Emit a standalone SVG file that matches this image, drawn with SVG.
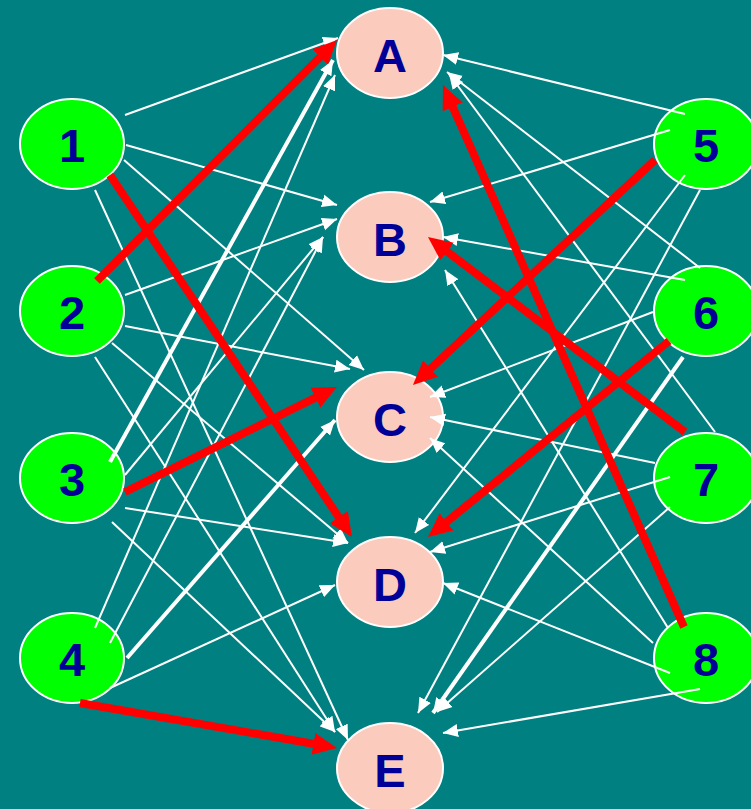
<svg xmlns="http://www.w3.org/2000/svg" width="751" height="809" viewBox="0 0 751 809">
  <style>
    .bg { fill: #008080; }
    .src ellipse { fill: #00FF00; stroke: #FFFFFF; stroke-width: 2; }
    .dst ellipse { fill: #FBCBBD; stroke: #FFFFFF; stroke-width: 2; }
    .node text { font-family: "Liberation Sans", Arial, sans-serif; font-weight: bold; font-size: 47px; fill: #000099; text-anchor: middle; }
    .w { stroke: #FFFFFF; stroke-width: 2; fill: none; marker-end: url(#headW); }
    .wt { stroke-width: 4; }
    .r { stroke: #FF0000; stroke-width: 8; fill: none; marker-end: url(#headR); }
  </style>
  <defs>
    <marker id="headW" markerUnits="userSpaceOnUse" markerWidth="16" markerHeight="14" viewBox="0 -7 16 14" refX="15" refY="0" orient="auto">
      <path d="M0,-6.5 L15,0 L0,6.5 z" fill="#FFFFFF"/>
    </marker>
    <marker id="headR" markerUnits="userSpaceOnUse" markerWidth="26" markerHeight="24" viewBox="0 -12 26 24" refX="4" refY="0" orient="auto">
      <path d="M0,-11 L24,0 L0,11 z" fill="#FF0000"/>
    </marker>
  </defs>

  <rect class="bg" x="0" y="0" width="751" height="809"/>

  <!-- left column -->
  <g id="n1" class="node src"><ellipse cx="72" cy="144" rx="52" ry="45"/><text x="72" y="162">1</text></g>
  <g id="n2" class="node src"><ellipse cx="72" cy="311" rx="52" ry="45"/><text x="72" y="329">2</text></g>
  <g id="n3" class="node src"><ellipse cx="72" cy="478" rx="52" ry="45"/><text x="72" y="496">3</text></g>
  <g id="n4" class="node src"><ellipse cx="72" cy="658" rx="52" ry="45"/><text x="72" y="676">4</text></g>

  <!-- right column -->
  <g id="n5" class="node src"><ellipse cx="706" cy="144" rx="52" ry="45"/><text x="706" y="162">5</text></g>
  <g id="n6" class="node src"><ellipse cx="706" cy="311" rx="52" ry="45"/><text x="706" y="329">6</text></g>
  <g id="n7" class="node src"><ellipse cx="706" cy="478" rx="52" ry="45"/><text x="706" y="496">7</text></g>
  <g id="n8" class="node src"><ellipse cx="706" cy="658" rx="52" ry="45"/><text x="706" y="676">8</text></g>

  <!-- middle column -->
  <g id="nA" class="node dst"><ellipse cx="390" cy="53" rx="53" ry="45"/><text x="390" y="72">A</text></g>
  <g id="nB" class="node dst"><ellipse cx="390" cy="237" rx="53" ry="45"/><text x="390" y="256">B</text></g>
  <g id="nC" class="node dst"><ellipse cx="390" cy="417" rx="53" ry="45"/><text x="390" y="436">C</text></g>
  <g id="nD" class="node dst"><ellipse cx="390" cy="582" rx="53" ry="45"/><text x="390" y="601">D</text></g>
  <g id="nE" class="node dst"><ellipse cx="390" cy="768" rx="53" ry="45"/><text x="390" y="787">E</text></g>

  <g id="connectors">
    <!-- from 1 -->
    <line class="w" x1="125" y1="115" x2="338" y2="38"/>
    <line class="w" x1="126" y1="145" x2="337" y2="205"/>
    <line class="w" x1="124" y1="160" x2="364" y2="370"/>
    <line class="w" x1="95" y1="190" x2="348" y2="740"/>
    <!-- from 2 -->
    <line class="w" x1="125" y1="295" x2="337" y2="219"/>
    <line class="w" x1="125" y1="326" x2="350" y2="369"/>
    <line class="w" x1="112" y1="343" x2="348" y2="543"/>
    <line class="w" x1="95" y1="357" x2="335" y2="732"/>
    <!-- from 3 -->
    <line class="w wt" x1="110" y1="462" x2="333" y2="60"/>
    <line class="w" x1="125" y1="475" x2="323" y2="237"/>
    <line class="w" x1="125" y1="508" x2="348" y2="543"/>
    <line class="w" x1="112" y1="522" x2="335" y2="732"/>
    <!-- from 4 -->
    <line class="w" x1="95" y1="628" x2="335" y2="75"/>
    <line class="w" x1="110" y1="643" x2="323" y2="237"/>
    <line class="w wt" x1="127" y1="658" x2="335" y2="420"/>
    <line class="w" x1="110" y1="688" x2="335" y2="585"/>
    <!-- from 5 -->
    <line class="w" x1="685" y1="114" x2="443" y2="55"/>
    <line class="w" x1="670" y1="130" x2="430" y2="202"/>
    <line class="w" x1="685" y1="175" x2="415" y2="533"/>
    <line class="w" x1="700" y1="190" x2="418" y2="713"/>
    <!-- from 6 -->
    <line class="w" x1="700" y1="268" x2="447" y2="72"/>
    <line class="w" x1="685" y1="280" x2="443" y2="237"/>
    <line class="w" x1="653" y1="312" x2="430" y2="397"/>
    <line class="w wt" x1="683" y1="357" x2="433" y2="713"/>
    <!-- from 7 -->
    <line class="w" x1="715" y1="432" x2="449" y2="74"/>
    <line class="w" x1="655" y1="463" x2="430" y2="417"/>
    <line class="w" x1="670" y1="477" x2="430" y2="552"/>
    <line class="w" x1="670" y1="507" x2="437" y2="712"/>
    <!-- from 8 -->
    <line class="w" x1="668" y1="628" x2="445" y2="270"/>
    <line class="w" x1="653" y1="643" x2="430" y2="438"/>
    <line class="w" x1="670" y1="673" x2="443" y2="583"/>
    <line class="w" x1="700" y1="689" x2="443" y2="733"/>

    <!-- highlighted links -->
    <line class="r" x1="110" y1="175" x2="340.9" y2="520.4"/>
    <line class="r" x1="97" y1="281" x2="322.9" y2="54.2"/>
    <line class="r" x1="125" y1="492" x2="319.1" y2="395.9"/>
    <line class="r" x1="80" y1="703" x2="317.3" y2="744.5"/>
    <line class="r" x1="655" y1="160" x2="427.6" y2="371.4"/>
    <line class="r" x1="669" y1="341" x2="443.5" y2="524.4"/>
    <line class="r" x1="685" y1="432" x2="443.9" y2="249.1"/>
    <line class="r" x1="684" y1="627" x2="451.1" y2="103.3"/>
  </g>
</svg>
